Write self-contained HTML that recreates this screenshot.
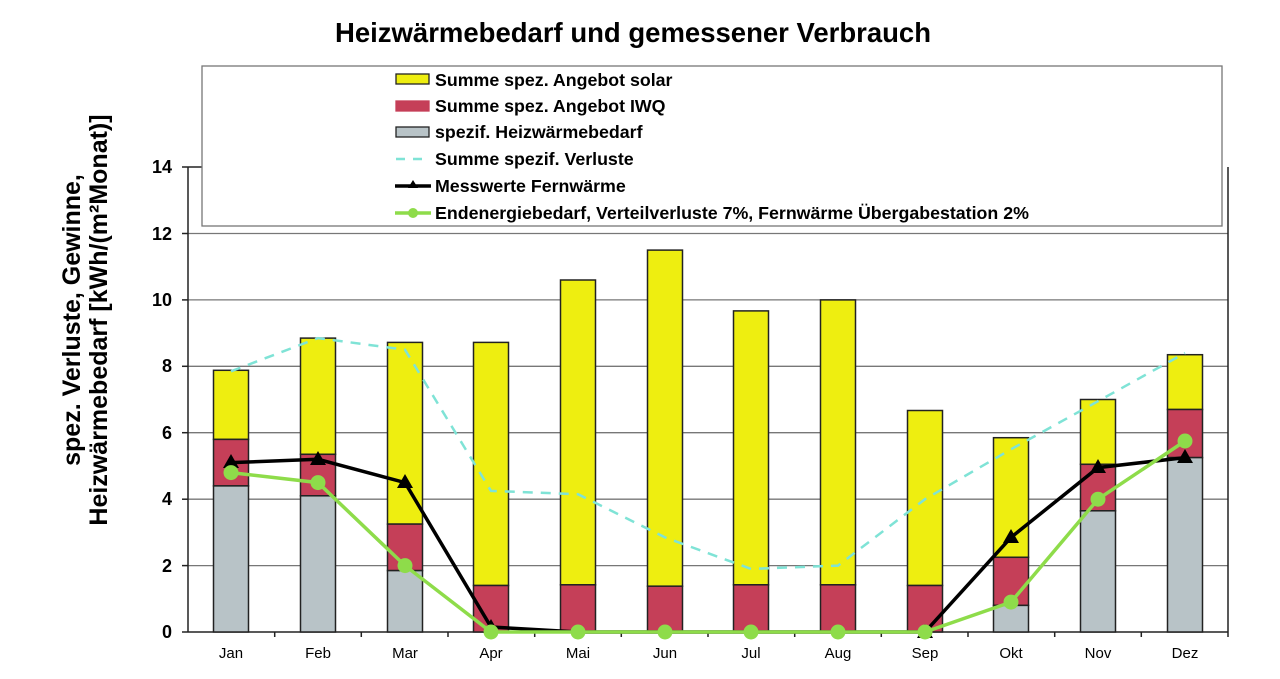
<!DOCTYPE html>
<html><head><meta charset="utf-8"><style>
html,body{margin:0;padding:0;background:#fff}
svg{display:block;font-family:"Liberation Sans",Arial,sans-serif}
</style></head><body>
<svg width="1280" height="679" viewBox="0 0 1280 679" xmlns="http://www.w3.org/2000/svg">
<text x="633" y="42" text-anchor="middle" font-size="27.5" font-weight="bold">Heizwärmebedarf und gemessener Verbrauch</text>
<g stroke="#777" stroke-width="1.3">
<line x1="188" y1="565.6" x2="1228" y2="565.6"/>
<line x1="188" y1="499.2" x2="1228" y2="499.2"/>
<line x1="188" y1="432.7" x2="1228" y2="432.7"/>
<line x1="188" y1="366.3" x2="1228" y2="366.3"/>
<line x1="188" y1="299.9" x2="1228" y2="299.9"/>
<line x1="188" y1="233.5" x2="1228" y2="233.5"/>
</g>
<g stroke="#222" stroke-width="1.5" fill="none">
<line x1="188" y1="167" x2="188" y2="632"/>
<line x1="1228" y1="167" x2="1228" y2="632"/>
<line x1="188" y1="632" x2="1228" y2="632"/>
<line x1="182" y1="632" x2="188" y2="632"/>
<line x1="182" y1="565.6" x2="188" y2="565.6"/>
<line x1="182" y1="499.2" x2="188" y2="499.2"/>
<line x1="182" y1="432.7" x2="188" y2="432.7"/>
<line x1="182" y1="366.3" x2="188" y2="366.3"/>
<line x1="182" y1="299.9" x2="188" y2="299.9"/>
<line x1="182" y1="233.5" x2="188" y2="233.5"/>
<line x1="182" y1="167" x2="202" y2="167"/>
<line x1="274.7" y1="632" x2="274.7" y2="637"/><line x1="361.3" y1="632" x2="361.3" y2="637"/>
<line x1="448" y1="632" x2="448" y2="637"/><line x1="534.7" y1="632" x2="534.7" y2="637"/>
<line x1="621.3" y1="632" x2="621.3" y2="637"/><line x1="708" y1="632" x2="708" y2="637"/>
<line x1="794.7" y1="632" x2="794.7" y2="637"/><line x1="881.3" y1="632" x2="881.3" y2="637"/>
<line x1="968" y1="632" x2="968" y2="637"/><line x1="1054.7" y1="632" x2="1054.7" y2="637"/>
<line x1="1141.3" y1="632" x2="1141.3" y2="637"/><line x1="1228" y1="632" x2="1228" y2="637"/>
</g>
<g font-size="18" font-weight="bold" text-anchor="end">
<text x="172" y="638">0</text><text x="172" y="572">2</text><text x="172" y="505">4</text>
<text x="172" y="439">6</text><text x="172" y="372">8</text><text x="172" y="306">10</text>
<text x="172" y="240">12</text><text x="172" y="173">14</text>
</g>
<g font-size="15" text-anchor="middle">
<text x="231" y="658">Jan</text><text x="318" y="658">Feb</text><text x="405" y="658">Mar</text>
<text x="491" y="658">Apr</text><text x="578" y="658">Mai</text><text x="665" y="658">Jun</text>
<text x="751" y="658">Jul</text><text x="838" y="658">Aug</text><text x="925" y="658">Sep</text>
<text x="1011" y="658">Okt</text><text x="1098" y="658">Nov</text><text x="1185" y="658">Dez</text>
</g>
<g font-size="25" font-weight="bold" text-anchor="middle">
<text transform="translate(80,320) rotate(-90)">spez. Verluste, Gewinne,</text>
<text transform="translate(107,320) rotate(-90)">Heizwärmebedarf [kWh/(m²Monat)]</text>
</g>
<rect x="202" y="66" width="1020" height="160" fill="#fff" stroke="#777" stroke-width="1.3"/>
<g stroke="#222" stroke-width="1.5">
<g fill="#eeee10">
<rect x="213.5" y="370.3" width="35" height="69.1"/>
<rect x="300.5" y="338.1" width="35" height="116.2"/>
<rect x="387.5" y="342.4" width="35" height="181.7"/>
<rect x="473.5" y="342.4" width="35" height="243.1"/>
<rect x="560.5" y="280" width="35" height="304.8"/>
<rect x="647.5" y="250.1" width="35" height="336.1"/>
<rect x="733.5" y="310.9" width="35" height="273.9"/>
<rect x="820.5" y="299.9" width="35" height="284.9"/>
<rect x="907.5" y="410.5" width="35" height="175"/>
<rect x="993.5" y="437.7" width="35" height="119.6"/>
<rect x="1080.5" y="399.5" width="35" height="64.8"/>
<rect x="1167.5" y="354.7" width="35" height="54.8"/>
</g>
<g fill="#c53f58">
<rect x="213.5" y="439.4" width="35" height="46.5"/>
<rect x="300.5" y="454.3" width="35" height="41.5"/>
<rect x="387.5" y="524.1" width="35" height="46.5"/>
<rect x="473.5" y="585.5" width="35" height="46.5"/>
<rect x="560.5" y="584.8" width="35" height="47.2"/>
<rect x="647.5" y="586.2" width="35" height="45.8"/>
<rect x="733.5" y="584.8" width="35" height="47.2"/>
<rect x="820.5" y="584.8" width="35" height="47.2"/>
<rect x="907.5" y="585.5" width="35" height="46.5"/>
<rect x="993.5" y="557.3" width="35" height="48.1"/>
<rect x="1080.5" y="464.3" width="35" height="46.5"/>
<rect x="1167.5" y="409.5" width="35" height="48.1"/>
</g>
<g fill="#b8c3c7">
<rect x="213.5" y="485.9" width="35" height="146.1"/>
<rect x="300.5" y="495.8" width="35" height="136.2"/>
<rect x="387.5" y="570.6" width="35" height="61.4"/>
<rect x="993.5" y="605.4" width="35" height="26.6"/>
<rect x="1080.5" y="510.8" width="35" height="121.2"/>
<rect x="1167.5" y="457.6" width="35" height="174.4"/>
</g>
</g>
<polyline fill="none" stroke="#7fe3d6" stroke-width="2.5" stroke-dasharray="10,8" points="231,371.3 318,338.1 405,349.7 491,490.9 578,494.2 665,537.4 751,568.9 838,565.6 925,499.2 1011,449.3 1098,401.2 1185,353"/>
<polyline fill="none" stroke="#000" stroke-width="3.5" points="231,462.6 318,459.3 405,482.6 491,627 578,632 665,632 751,632 838,632 925,632 1011,537.4 1098,467.6 1185,457.6"/>
<g fill="#000">
<polygon points="231,454 223,468 239,468"/><polygon points="318,451 310,465 326,465"/>
<polygon points="405,474 397,488 413,488"/><polygon points="491,619 483,633 499,633"/>
<polygon points="925,624 917,638 933,638"/>
<polygon points="1011,529 1003,543 1019,543"/><polygon points="1098,459 1090,473 1106,473"/>
<polygon points="1185,449 1177,463 1193,463"/>
</g>
<polyline fill="none" stroke="#8edc4a" stroke-width="3.5" points="231,472.6 318,482.6 405,565.6 491,632 578,632 665,632 751,632 838,632 925,632 1011,602.1 1098,499.2 1185,441"/>
<g fill="#8edc4a">
<circle cx="231" cy="472.6" r="7.5"/><circle cx="318" cy="482.6" r="7.5"/><circle cx="405" cy="565.6" r="7.5"/>
<circle cx="491" cy="632" r="7.5"/><circle cx="578" cy="632" r="7.5"/><circle cx="665" cy="632" r="7.5"/>
<circle cx="751" cy="632" r="7.5"/><circle cx="838" cy="632" r="7.5"/><circle cx="925" cy="632" r="7.5"/>
<circle cx="1011" cy="602.1" r="7.5"/><circle cx="1098" cy="499.2" r="7.5"/><circle cx="1185" cy="441" r="7.5"/>
</g>
<rect x="396" y="74" width="33" height="10" fill="#eeee10" stroke="#222" stroke-width="1.3"/>
<rect x="396" y="101" width="33" height="10" fill="#c53f58" stroke="#c53f58" stroke-width="1.3"/>
<rect x="396" y="127" width="33" height="10" fill="#b8c3c7" stroke="#222" stroke-width="1.3"/>
<line x1="396" y1="159" x2="430" y2="159" stroke="#7fe3d6" stroke-width="2.5" stroke-dasharray="9,8"/>
<line x1="395" y1="186" x2="431" y2="186" stroke="#000" stroke-width="3.5"/>
<polygon points="413,180 408,188 418,188" fill="#000"/>
<line x1="395" y1="213" x2="431" y2="213" stroke="#8edc4a" stroke-width="3.5"/>
<circle cx="413" cy="213" r="5" fill="#8edc4a"/>
<g font-size="17.8" font-weight="bold">
<text x="435" y="86">Summe spez. Angebot solar</text>
<text x="435" y="112">Summe spez. Angebot IWQ</text>
<text x="435" y="138">spezif. Heizwärmebedarf</text>
<text x="435" y="165">Summe spezif. Verluste</text>
<text x="435" y="192">Messwerte Fernwärme</text>
<text x="435" y="219">Endenergiebedarf, Verteilverluste 7%, Fernwärme Übergabestation 2%</text>
</g>
</svg>
</body></html>
